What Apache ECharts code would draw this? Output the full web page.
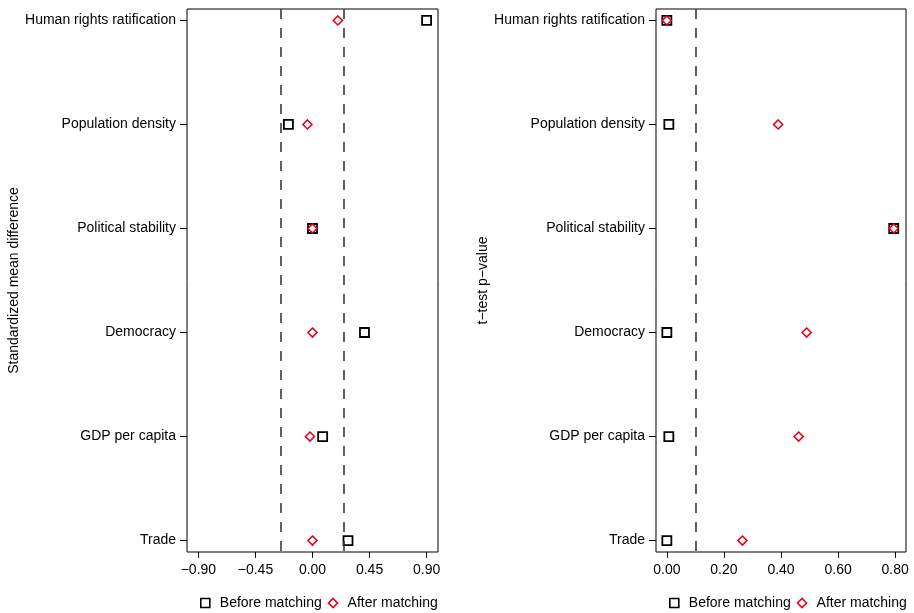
<!DOCTYPE html>
<html>
<head>
<meta charset="utf-8">
<script src="https://cdn.jsdelivr.net/npm/echarts@6/dist/echarts.min.js"></script>
<style>
	html, body { margin: 0; padding: 0; background: #fff; }
	#chart { width: 914px; height: 613px; }
</style>
</head>
<body>
<div id="chart"></div>
<script>
	var categories = ['Human rights ratification', 'Population density', 'Political stability', 'Democracy', 'GDP per capita', 'Trade'];
	var smdBefore = [0.90, -0.19, 0.00, 0.41, 0.08, 0.28];
	var smdAfter = [0.20, -0.04, 0.00, 0.00, -0.02, 0.00];
	var pBefore = [0.000, 0.007, 0.795, 0.000, 0.007, 0.000];
	var pAfter = [0.000, 0.390, 0.795, 0.490, 0.462, 0.265];
	var smdTicks = [-0.90, -0.45, 0.00, 0.45, 0.90];
	var pTicks = [0.00, 0.20, 0.40, 0.60, 0.80];
	var smdCutoffs = [-0.25, 0.25];
	var pCutoffs = [0.10];

	var font = 'Liberation Sans, Arial, Helvetica, sans-serif';
	var red = '#e3001b';

	function pairs(vals) {
		return vals.map(function(v, i) { return [v, i + 1]; });
	}

	function fmt(v) {
		var s = Math.abs(v).toFixed(2);
		return v < -1e-9 ? '\u2212' + s : s;
	}

	function xAxisFor(idx, min, max, ticks) {
		return {
			type: 'value',
			gridIndex: idx,
			min: min,
			max: max,
			splitLine: { show: false },
			axisLine: { show: false, onZero: false },
			axisTick: { show: true, length: 6, customValues: ticks, lineStyle: { color: '#000', width: 1 } },
			axisLabel: { customValues: ticks, formatter: fmt, color: '#000', fontSize: 14, fontFamily: font, margin: 11 }
		};
	}

	function yAxisFor(idx, name, gap) {
		var ticks = categories.map(function(c, i) { return i + 1; });
		return {
			type: 'value',
			gridIndex: idx,
			inverse: true,
			min: 0.89,
			max: 6.11,
			splitLine: { show: false },
			axisLine: { show: false, onZero: false },
			axisTick: { show: true, length: 7, customValues: ticks, lineStyle: { color: '#000', width: 1 } },
			axisLabel: {
				customValues: ticks,
				formatter: function(v) { return categories[Math.round(v) - 1] || ''; },
				color: '#000', fontSize: 14, fontFamily: font, margin: 11, padding: [2, 0, 0, 0]
			},
			name: name,
			nameLocation: 'middle',
			nameGap: gap,
			nameTextStyle: { color: '#000', fontSize: 14, fontFamily: font }
		};
	}

	function cutoffLines(vals) {
		return {
			silent: true,
			symbol: 'none',
			label: { show: false },
			lineStyle: { color: '#3a3a3a', width: 1.6, type: [10, 9] },
			data: vals.map(function(v) { return { xAxis: v }; })
		};
	}

	function beforeSeries(idx, vals) {
		return {
			name: 'Before matching',
			type: 'scatter',
			xAxisIndex: idx,
			yAxisIndex: idx,
			symbol: 'rect',
			symbolSize: 9,
			itemStyle: { color: '#fff', borderColor: '#000', borderWidth: 1.8, opacity: 1 },
			data: pairs(vals),
			z: 3
		};
	}

	function afterSeries(idx, vals, cut) {
		return {
			name: 'After matching',
			type: 'scatter',
			xAxisIndex: idx,
			yAxisIndex: idx,
			symbol: 'diamond',
			symbolSize: 9,
			itemStyle: { color: '#fff', borderColor: red, borderWidth: 1.6, opacity: 1 },
			data: pairs(vals),
			markLine: cutoffLines(cut),
			z: 4
		};
	}

	function legendFor(left) {
		return {
			left: left,
			top: 591,
			itemWidth: 9,
			itemHeight: 9,
			itemGap: 6,
			selectedMode: false,
			textStyle: { color: '#000', fontSize: 14, fontFamily: font, padding: [0, 0, 0, 5] },
			data: [
				{ name: 'Before matching', icon: 'rect', itemStyle: { color: '#fff', borderColor: '#000', borderWidth: 1.6 } },
				{ name: 'After matching', icon: 'diamond', itemStyle: { color: '#fff', borderColor: red, borderWidth: 1.6 } }
			]
		};
	}

	var myChart = echarts.init(document.getElementById('chart'), null, { renderer: 'canvas' });
	var option = {
		backgroundColor: '#fff',
		animation: false,
		grid: [
			{ left: 187, width: 251, top: 9, height: 543, show: true, borderColor: '#000', borderWidth: 1, backgroundColor: 'transparent' },
			{ left: 656, width: 250, top: 9, height: 543, show: true, borderColor: '#000', borderWidth: 1, backgroundColor: 'transparent' }
		],
		xAxis: [
			xAxisFor(0, -0.99, 0.99, smdTicks),
			xAxisFor(1, -0.038, 0.838, pTicks)
		],
		yAxis: [
			yAxisFor(0, 'Standardized mean difference', 164),
			yAxisFor(1, 't\u2212test p\u2212value', 164)
		],
		legend: [legendFor(195), legendFor(664)],
		series: [
			beforeSeries(0, smdBefore),
			afterSeries(0, smdAfter, smdCutoffs),
			beforeSeries(1, pBefore),
			afterSeries(1, pAfter, pCutoffs)
		]
	};
	myChart.setOption(option);
</script>
</body>
</html>
